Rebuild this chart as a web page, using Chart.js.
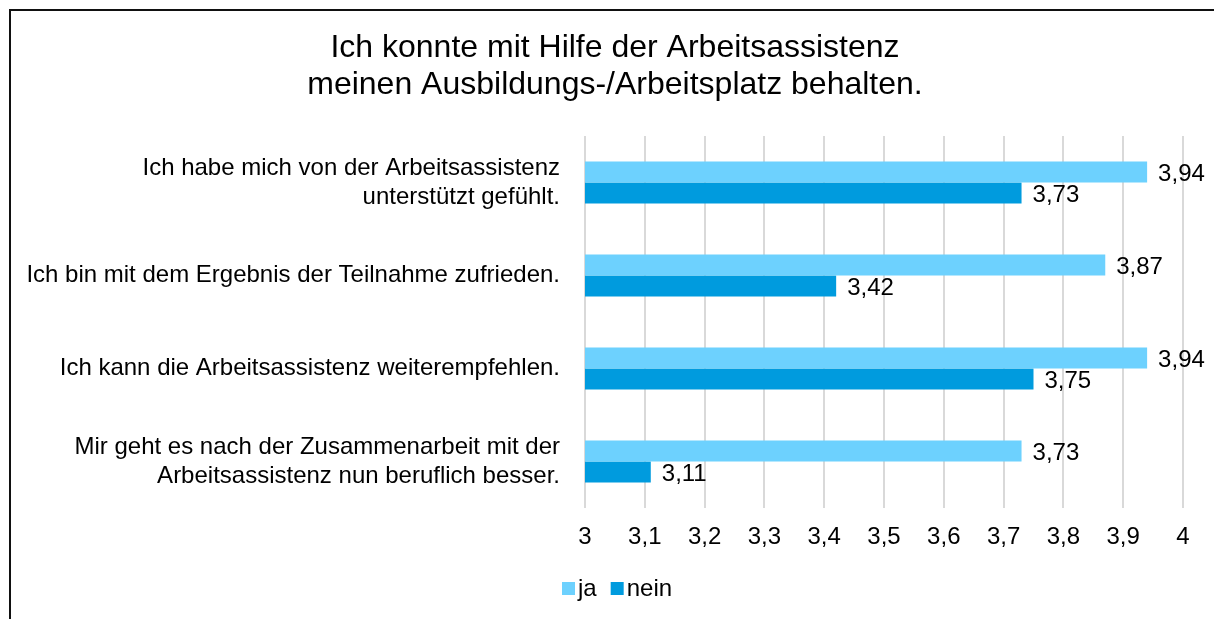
<!DOCTYPE html>
<html>
<head>
<meta charset="utf-8">
<script src="https://cdn.jsdelivr.net/npm/chart.js@4.4.1/dist/chart.umd.min.js"></script>
<style>
  html, body { margin: 0; padding: 0; background: #fff; }
  #wrap { position: relative; width: 1214px; height: 619px; overflow: hidden; }
  #frame {
    position: absolute; left: 9px; top: 9px; width: 1300px; height: 700px;
    border-left: 2px solid #111; border-top: 2px solid #111;
    pointer-events: none;
  }
  canvas { position: absolute; left: 0; top: 0; }
</style>
</head>
<body>
<div id="wrap">
  <canvas id="chart" width="1214" height="619"></canvas>
  <div id="frame"></div>
</div>
<script>
const titleLines = ['Ich konnte mit Hilfe der Arbeitsassistenz', 'meinen Ausbildungs-/Arbeitsplatz behalten.'];

const categories = [
    ['Ich habe mich von der Arbeitsassistenz', 'unterstützt gefühlt.'],
    'Ich bin mit dem Ergebnis der Teilnahme zufrieden.',
    'Ich kann die Arbeitsassistenz weiterempfehlen.',
    ['Mir geht es nach der Zusammenarbeit mit der', 'Arbeitsassistenz nun beruflich besser.']
];

const jaValues = [3.94, 3.87, 3.94, 3.73];
const neinValues = [3.73, 3.42, 3.75, 3.11];

const axisMin = 3;
const axisMax = 4;
const axisStep = 0.1;

const fontFamily = '"Liberation Sans", Arial, sans-serif';

function fmt(v) {
    return String(Math.round(v * 100) / 100).replace('.', ',');
}

// Titel, Balkenwerte und Legende selbst zeichnen (Abstände wie im Original)
const extras = {
    id: 'extras',
    afterDraw(chart) {
        const ctx = chart.ctx;
        ctx.save();
        ctx.fillStyle = '#000';
        ctx.textBaseline = 'middle';

        // Titel
        ctx.font = '32px ' + fontFamily;
        ctx.textAlign = 'center';
        titleLines.forEach((t, i) => ctx.fillText(t, 615, 48 + i * 37));

        // Werte
        ctx.font = '24px ' + fontFamily;
        ctx.textAlign = 'left';
        chart.data.datasets.forEach((ds, i) => {
            chart.getDatasetMeta(i).data.forEach((bar, j) => {
                ctx.fillText(fmt(ds.data[j]), bar.x + 11, bar.y + 2);
            });
        });

        // Legende
        let x = 562;
        const y = 589;
        chart.data.datasets.forEach(ds => {
            ctx.fillStyle = ds.backgroundColor;
            ctx.fillRect(x, y - 7, 13, 13);
            x += 16;
            ctx.fillStyle = '#000';
            ctx.fillText(ds.label, x, y);
            x += ctx.measureText(ds.label).width + 14;
        });
        ctx.restore();
    }
};

new Chart(document.getElementById('chart').getContext('2d'), {
    type: 'bar',
    data: {
        labels: categories,
        datasets: [
            { label: 'ja', data: jaValues, backgroundColor: '#6dd1fe' },
            { label: 'nein', data: neinValues, backgroundColor: '#009bde' }
        ]
    },
    options: {
        indexAxis: 'y',
        responsive: false,
        animation: false,
        categoryPercentage: 0.45,
        barPercentage: 1,
        layout: { padding: { top: 136, right: 31, bottom: 51, left: 0 } },
        plugins: {
            title: { display: false },
            legend: { display: false },
            tooltip: { enabled: false }
        },
        scales: {
            x: {
                min: axisMin,
                max: axisMax,
                border: { display: false },
                grid: { color: '#d9d9d9', lineWidth: 2, drawTicks: false },
                ticks: {
                    stepSize: axisStep,
                    color: '#000',
                    padding: 15,
                    font: { family: fontFamily, size: 24 },
                    callback: v => fmt(v)
                },
                afterFit: s => { s.height = 60; }
            },
            y: {
                border: { display: false },
                grid: { display: false, drawTicks: false },
                ticks: {
                    color: '#000',
                    padding: 25,
                    font: { family: fontFamily, size: 24 }
                },
                afterFit: s => { s.width = 585; }
            }
        }
    },
    plugins: [extras]
});
</script>
</body>
</html>
